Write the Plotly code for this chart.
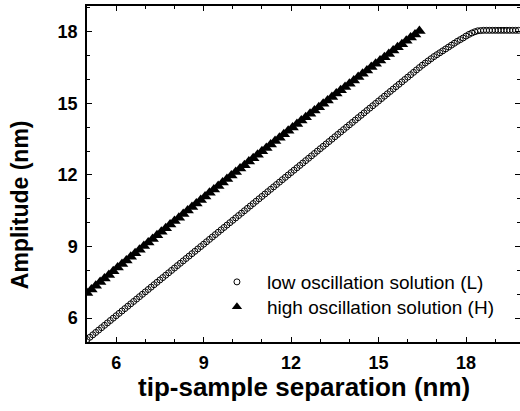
import plotly.graph_objects as go

# Low oscillation solution (L): tip-sample separation (nm) vs amplitude (nm)
L_x = [5.0, 5.1, 5.2, 5.3, 5.4, 5.5, 5.6, 5.7, 5.8, 5.9,
       6.0, 6.1, 6.2, 6.3, 6.4, 6.5, 6.6, 6.7, 6.8, 6.9,
       7.0, 7.1, 7.2, 7.3, 7.4, 7.5, 7.6, 7.7, 7.8, 7.9,
       8.0, 8.1, 8.2, 8.3, 8.4, 8.5, 8.6, 8.7, 8.8, 8.9,
       9.0, 9.1, 9.2, 9.3, 9.4, 9.5, 9.6, 9.7, 9.8, 9.9,
       10.0, 10.1, 10.2, 10.3, 10.4, 10.5, 10.6, 10.7, 10.8, 10.9,
       11.0, 11.1, 11.2, 11.3, 11.4, 11.5, 11.6, 11.7, 11.8, 11.9,
       12.0, 12.1, 12.2, 12.3, 12.4, 12.5, 12.6, 12.7, 12.8, 12.9,
       13.0, 13.1, 13.2, 13.3, 13.4, 13.5, 13.6, 13.7, 13.8, 13.9,
       14.0, 14.1, 14.2, 14.3, 14.4, 14.5, 14.6, 14.7, 14.8, 14.9,
       15.0, 15.1, 15.2, 15.3, 15.4, 15.5, 15.6, 15.7, 15.8, 15.9,
       16.0, 16.1, 16.2, 16.3, 16.4, 16.5, 16.6, 16.7, 16.8, 16.9,
       17.0, 17.1, 17.2, 17.3, 17.4, 17.5, 17.6, 17.7, 17.8, 17.9,
       18.0, 18.1, 18.2, 18.3, 18.4, 18.5, 18.6, 18.7, 18.8, 18.9,
       19.0, 19.1, 19.2, 19.3, 19.4, 19.5, 19.6, 19.7, 19.8]
L_y = [5.1, 5.2, 5.3, 5.4, 5.5, 5.6, 5.7, 5.8, 5.9, 6.0,
       6.1, 6.2, 6.3, 6.4, 6.5, 6.6, 6.7, 6.8, 6.9, 7.0,
       7.1, 7.2, 7.3, 7.4, 7.5, 7.6, 7.7, 7.8, 7.9, 8.0,
       8.1, 8.2, 8.3, 8.4, 8.5, 8.6, 8.7, 8.8, 8.9, 9.0,
       9.1, 9.2, 9.3, 9.4, 9.5, 9.6, 9.7, 9.8, 9.9, 10.0,
       10.1, 10.2, 10.3, 10.4, 10.5, 10.6, 10.7, 10.8, 10.9, 11.0,
       11.1, 11.2, 11.3, 11.4, 11.5, 11.6, 11.7, 11.8, 11.9, 12.0,
       12.1, 12.2, 12.3, 12.4, 12.5, 12.6, 12.7, 12.8, 12.9, 13.0,
       13.1, 13.2, 13.3, 13.4, 13.5, 13.6, 13.7, 13.8, 13.9, 14.0,
       14.1, 14.2, 14.3, 14.4, 14.5, 14.6, 14.7, 14.8, 14.9, 15.0,
       15.1, 15.2, 15.3, 15.4, 15.5, 15.6, 15.7, 15.8, 15.9, 16.0,
       16.1, 16.2, 16.3, 16.4, 16.5, 16.6, 16.69, 16.78, 16.87, 16.96,
       17.04, 17.12, 17.2, 17.28, 17.36, 17.44, 17.52, 17.6, 17.67, 17.74,
       17.82, 17.89, 17.95, 18.0, 18.04, 18.05, 18.06, 18.06, 18.06, 18.06,
       18.06, 18.06, 18.06, 18.06, 18.06, 18.06, 18.06, 18.06, 18.06]

# High oscillation solution (H)
H_x = [5.0, 5.15, 5.3, 5.45, 5.6, 5.75, 5.9, 6.05, 6.2, 6.35,
       6.5, 6.65, 6.8, 6.95, 7.1, 7.25, 7.4, 7.55, 7.7, 7.85,
       8.0, 8.15, 8.3, 8.45, 8.6, 8.75, 8.9, 9.05, 9.2, 9.35,
       9.5, 9.65, 9.8, 9.95, 10.1, 10.25, 10.4, 10.55, 10.7, 10.85,
       11.0, 11.15, 11.3, 11.45, 11.6, 11.75, 11.9, 12.05, 12.2, 12.35,
       12.5, 12.65, 12.8, 12.95, 13.1, 13.25, 13.4, 13.55, 13.7, 13.85,
       14.0, 14.15, 14.3, 14.45, 14.6, 14.75, 14.9, 15.05, 15.2, 15.35,
       15.5, 15.65, 15.8, 15.95, 16.1, 16.25, 16.4]
H_y = [7.05, 7.2, 7.36, 7.51, 7.66, 7.81, 7.96, 8.12, 8.27, 8.42,
       8.57, 8.72, 8.87, 9.02, 9.17, 9.32, 9.47, 9.62, 9.77, 9.92,
       10.07, 10.21, 10.36, 10.51, 10.66, 10.8, 10.95, 11.1, 11.25, 11.39,
       11.54, 11.68, 11.83, 11.98, 12.12, 12.27, 12.41, 12.56, 12.7, 12.85,
       12.99, 13.13, 13.28, 13.42, 13.56, 13.71, 13.85, 13.99, 14.13, 14.28,
       14.42, 14.56, 14.7, 14.84, 14.98, 15.12, 15.27, 15.41, 15.55, 15.69,
       15.82, 15.96, 16.1, 16.24, 16.38, 16.52, 16.66, 16.8, 16.93, 17.07,
       17.21, 17.35, 17.48, 17.62, 17.76, 17.89, 18.03]

x_ticks = [6, 9, 12, 15, 18]
y_ticks = [6, 9, 12, 15, 18]

L_name = "low oscillation solution (L)"
H_name = "high oscillation solution (H)"

FONT = "Liberation Sans, Arial, sans-serif"

fig = go.Figure()
fig.add_trace(go.Scatter(
    x=L_x, y=L_y, mode="markers", name=L_name, showlegend=False,
    marker=dict(symbol="circle-open", size=6, color="black", line=dict(width=1, color="black")),
))
fig.add_trace(go.Scatter(
    x=H_x, y=H_y, mode="markers", name=H_name, showlegend=False,
    marker=dict(symbol="triangle-up", size=11, color="black", line=dict(width=0)),
))
# legend-only entries (no data) with the smaller legend symbols of the reference
fig.add_trace(go.Scatter(
    x=[None], y=[None], mode="markers", name=L_name, legend="legend",
    marker=dict(symbol="circle-open", size=6, color="black", line=dict(width=1, color="black")),
))
fig.add_trace(go.Scatter(
    x=[None], y=[None], mode="markers", name=H_name, legend="legend2",
    marker=dict(symbol="triangle-up", size=9, color="black", line=dict(width=0)),
))

axis_common = dict(
    showline=True, linecolor="black", linewidth=1.5, mirror="ticks",
    ticks="inside", ticklen=5, tickwidth=1.3, tickcolor="black",
    showgrid=False, zeroline=False, automargin=False,
    tickfont=dict(family=FONT, size=18, color="black", weight="bold"),
    minor=dict(ticks="inside", ticklen=3, tickwidth=1, tickcolor="black", dtick=1),
)

fig.update_xaxes(range=[5, 19.85], tickvals=x_ticks, ticktext=[str(v) for v in x_ticks],
                 ticklabelstandoff=4, **axis_common)
fig.update_yaxes(range=[5, 19.08], tickvals=y_ticks, ticktext=[str(v) for v in y_ticks],
                 ticklabelstandoff=4, **axis_common)

fig.add_annotation(
    text="Amplitude (nm)", xref="paper", yref="paper", x=-0.155, y=0.41,
    textangle=-90, showarrow=False, xanchor="center", yanchor="middle",
    font=dict(family=FONT, size=23, color="black", weight="bold"),
)
fig.add_annotation(
    text="tip-sample separation (nm)", xref="paper", yref="paper", x=0.5, y=-0.134,
    showarrow=False, xanchor="center", yanchor="middle",
    font=dict(family=FONT, size=26, color="black", weight="bold"),
)

legend_common = dict(xanchor="left", yanchor="top", bgcolor="rgba(0,0,0,0)", borderwidth=0,
                     font=dict(family=FONT, size=19, color="black"), itemwidth=50)

fig.update_layout(
    width=520, height=411,
    margin=dict(l=87, r=0, t=6, b=69),
    paper_bgcolor="white", plot_bgcolor="white",
    showlegend=True,
    legend=dict(x=0.277, y=0.235, **legend_common),
    legend2=dict(x=0.277, y=0.161, **legend_common),
)

fig.write_html("out.html", config={"displayModeBar": False},
               post_script="document.body.style.margin='0';document.body.style.padding='0';")
